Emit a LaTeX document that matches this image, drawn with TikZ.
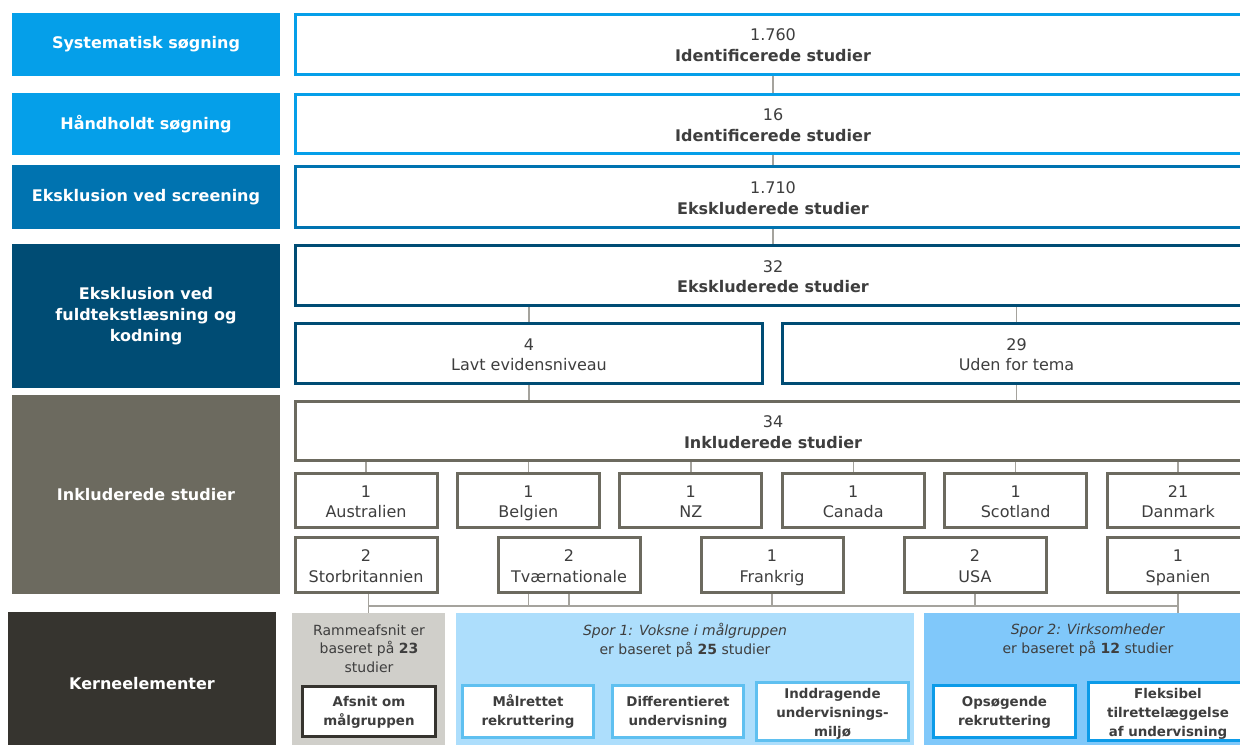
\documentclass[tikz,border=0pt]{standalone}
\usepackage{fontspec}
\setmainfont{DejaVu Sans}
\usetikzlibrary{positioning}

\definecolor{skyblue}{RGB}{5,159,233}
\definecolor{midblue}{RGB}{0,115,176}
\definecolor{deepblue}{RGB}{0,76,116}
\definecolor{olivegray}{RGB}{108,106,95}
\definecolor{charcoal}{RGB}{54,52,47}
\definecolor{txtgray}{RGB}{62,62,62}
\definecolor{linkgray}{RGB}{165,163,157}
\definecolor{panelgray}{RGB}{208,207,202}
\definecolor{panelpale}{RGB}{173,222,252}
\definecolor{panelblue}{RGB}{128,200,250}
\definecolor{edgepale}{RGB}{95,192,240}
\definecolor{edgeblue}{RGB}{12,155,232}

\newcommand{\labfont}{\fontsize{8}{10.5}\selectfont\bfseries}
\newcommand{\boxfont}{\fontsize{8}{10.3}\selectfont}
\newcommand{\panfont}{\fontsize{7}{9.3}\selectfont}
\newcommand{\kernfont}{\fontsize{6.7}{9.5}\selectfont\bfseries}

\tikzset{
  steplab/.style = {rectangle, fill=#1, text=white, font=\labfont, align=center, inner sep=0pt, minimum width=134pt},
  flowbox/.style = {rectangle, draw=#1, line width=1.5pt, fill=white, text=txtgray, font=\boxfont, align=center, inner sep=0pt,
                    execute at begin node={\rule{0pt}{19pt}}, execute at end node={\rule[-1.9pt]{0pt}{0pt}}},
  countrybox/.style = {flowbox=olivegray, minimum width=71pt},
  panel/.style = {rectangle, fill=#1, inner sep=0pt, minimum height=73.5pt},
  kernbox/.style = {rectangle, draw=#1, line width=1.5pt, fill=white, text=txtgray, font=\kernfont, align=center, inner sep=0pt, minimum height=26pt,
                    execute at begin node={\rule{0pt}{16pt}}, execute at end node={\rule[-1.6pt]{0pt}{0pt}}},
  kerndrop/.style = {execute at begin node={\rule{0pt}{27pt}}},
  link/.style = {draw=linkgray, line width=0.7pt},
}

\begin{document}
\begin{tikzpicture}[x=0.5pt, y=-0.5pt, node distance=81.2pt, on grid]
\useasboundingbox (0,0) rectangle (1240,744);
\clip (0,0) rectangle (1240,744);

% trin (venstre kolonne)
\node [steplab=skyblue, minimum height=31.5pt] (l_sys) at (146,44.5) {Systematisk søgning};
\node [steplab=skyblue, minimum height=31pt] (l_hand) at (146,124) {Håndholdt søgning};
\node [steplab=midblue, minimum height=32pt] (l_scr) at (146,197) {Eksklusion ved screening};
\node [steplab=deepblue, minimum height=72pt] (l_full) at (146,316) {Eksklusion ved\\fuldtekstlæsning og\\kodning};
\node [steplab=olivegray, minimum height=99.5pt] (l_incl) at (146,494.5) {Inkluderede studier};
\node [steplab=charcoal, minimum height=72pt] (l_kern) at (142,684) {Kerneelementer};

% flow (hoejre kolonne)
\node [flowbox=skyblue, minimum width=477.5pt, minimum height=30pt] (b_sys) at (773,44.5) {1.760\\\textbf{Identificerede studier}};
\node [flowbox=skyblue, minimum width=477.5pt, minimum height=29.5pt] (b_hand) at (773,124) {16\\\textbf{Identificerede studier}};
\node [flowbox=midblue, minimum width=477.5pt, minimum height=30.5pt] (b_scr) at (773,197) {1.710\\\textbf{Ekskluderede studier}};
\node [flowbox=deepblue, minimum width=477.5pt, minimum height=30pt] (b_full) at (773,275.5) {32\\\textbf{Ekskluderede studier}};
\node [flowbox=deepblue, minimum width=233.5pt, minimum height=30pt] (b_lavt) at (529,353.5) {4\\Lavt evidensniveau};
\node [flowbox=deepblue, minimum width=234pt, minimum height=30pt] (b_tema) at (1016.5,353.5) {29\\Uden for tema};
\node [flowbox=olivegray, minimum width=477.5pt, minimum height=29.5pt] (b_incl) at (773,431) {34\\\textbf{Inkluderede studier}};

% lande
\node [countrybox, minimum height=27pt] (aus) at (366,500.5) {1\\Australien};
\node [countrybox, minimum height=27pt] (bel) [right = of aus] {1\\Belgien};
\node [countrybox, minimum height=27pt] (nz) [right = of bel] {1\\NZ};
\node [countrybox, minimum height=27pt] (can) [right = of nz] {1\\Canada};
\node [countrybox, minimum height=27pt] (sco) [right = of can] {1\\Scotland};
\node [countrybox, minimum height=27pt] (dk) [right = of sco] {21\\Danmark};
\node [countrybox, minimum height=27.5pt] (stor) at (366,565) {2\\Storbritannien};
\node [countrybox, minimum height=27.5pt] (tvaer) [right = 101.5pt of stor] {2\\Tværnationale};
\node [countrybox, minimum height=27.5pt] (fra) [right = 101.5pt of tvaer] {1\\Frankrig};
\node [countrybox, minimum height=27.5pt] (usa) [right = 101.5pt of fra] {2\\USA};
\node [countrybox, minimum height=27.5pt] (spa) [right = 101.5pt of usa] {1\\Spanien};

% kerneelementer
\node [panel=panelgray, minimum width=76.5pt] (p_ramme) at (368.5,686.5) {};
\node [panel=panelpale, minimum width=229pt] (p_spor1) at (685,686.5) {};
\node [panel=panelblue, minimum width=168pt] (p_spor2) at (1092,686.5) {};
\node [text=txtgray, font=\panfont, align=center] (t_ramme) at (369,648.5) {Rammeafsnit er\\baseret på \textbf{23}\\studier};
\node [text=txtgray, font=\panfont, align=center] (t_spor1) at (685,640) {\textit{Spor 1: Voksne i målgruppen}\\er baseret på \textbf{25} studier};
\node [text=txtgray, font=\panfont, align=center] (t_spor2) at (1088,640) {\textit{Spor 2: Virksomheder}\\er baseret på \textbf{12} studier};
\node [kernbox=charcoal, minimum width=66.5pt, minimum height=25pt] (k_afsnit) at (369,711.5) {Afsnit om\\målgruppen};
\node [kernbox=edgepale, minimum width=65.5pt] (k_maal) at (528,711.5) {Målrettet\\rekruttering};
\node [kernbox=edgepale, minimum width=65.5pt] (k_diff) at (678,711.5) {Differentieret\\undervisning};
\node [kernbox=edgepale, kerndrop, minimum width=76pt] (k_indd) at (832.5,711.5) {Inddragende\\undervisnings-\\miljø};
\node [kernbox=edgeblue, minimum width=71pt] (k_ops) at (1004.5,711.5) {Opsøgende\\rekruttering};
\node [kernbox=edgeblue, kerndrop, minimum width=80pt] (k_fleks) at (1168,711.5) {Fleksibel\\tilrettelæggelse\\af undervisning};

% forbindelser
\path [link]
(b_sys) edge (b_hand)
(b_hand) edge (b_scr)
(b_scr) edge (b_full);
\draw [link] (b_lavt.north) -- (b_lavt.north |- b_full.south);
\draw [link] (b_tema.north) -- (b_tema.north |- b_full.south);
\draw [link] (b_lavt.south) -- (b_lavt.south |- b_incl.north);
\draw [link] (b_tema.south) -- (b_tema.south |- b_incl.north);
\foreach \c in {aus,bel,nz,can,sco,dk}
  \draw [link] (\c.north) -- (\c.north |- b_incl.south);
\coordinate (bus) at (772,606);
\foreach \c in {tvaer,fra,usa,spa}
  \draw [link] (\c.south) -- (\c.south |- bus);
\draw [link] (stor.south -| p_ramme.north) -- (p_ramme.north);
\draw [link] (bel.south |- tvaer.south) -- (bel.south |- bus);
\draw [link] (p_ramme.north |- bus) -- (spa.south |- bus);
\draw [link] (spa.south |- bus) -- (spa.south |- p_spor2.north);
\end{tikzpicture}
\end{document}
